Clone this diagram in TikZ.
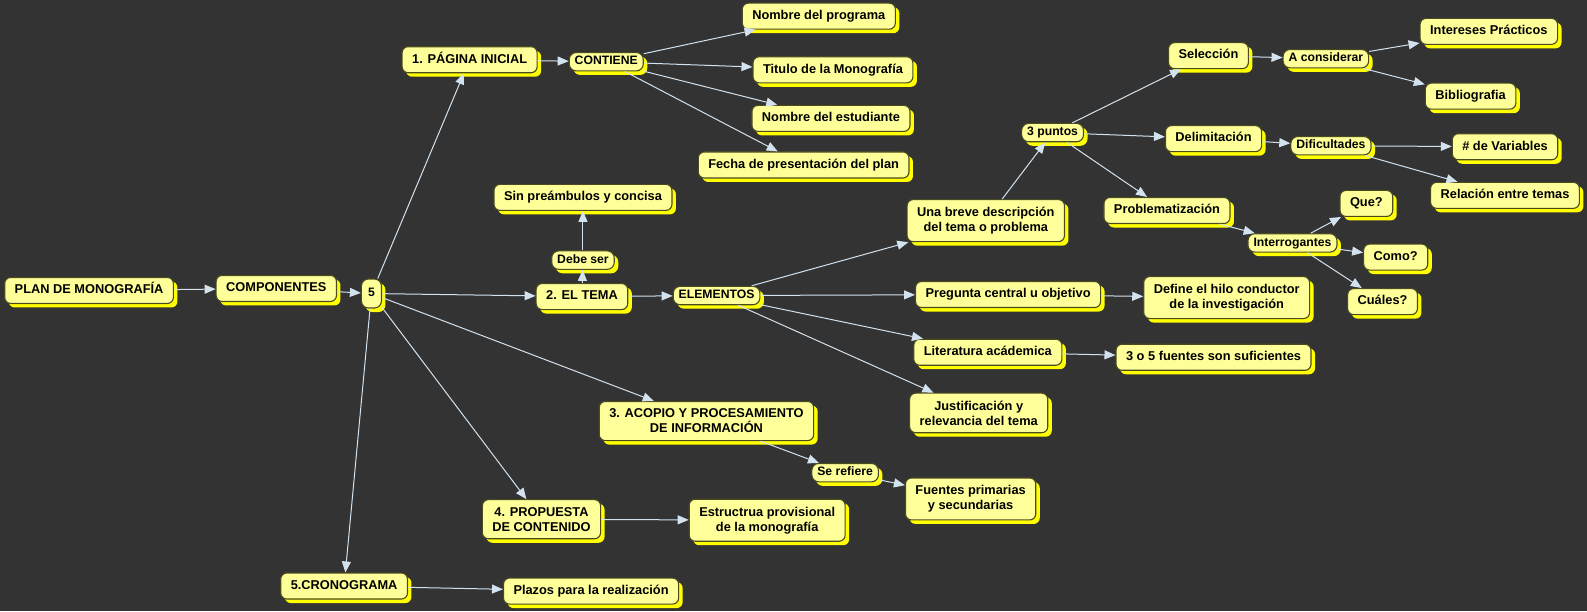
\documentclass[tikz,border=0pt]{standalone}
\usepackage{fontspec}
\setmainfont{Liberation Sans}
\usetikzlibrary{arrows.meta,shadows}
\definecolor{bg}{HTML}{333333}
\definecolor{boxfill}{HTML}{FFFF99}
\definecolor{boxline}{HTML}{4A4A20}
\definecolor{shad}{HTML}{FFFF00}
\definecolor{arr}{HTML}{D2E2EE}
\tikzset{
 base/.style={draw=boxline, line width=1.1pt, fill=boxfill, align=center,
   drop shadow={shadow xshift=4pt, shadow yshift=-4pt, fill=shad, opacity=1}},
 concept/.style={base, rounded corners=6pt, font=\fontsize{12.8}{15}\selectfont\bfseries,
   inner xsep=10pt, inner ysep=7.5pt},
 one/.style={concept, text height=9.3pt, text depth=2.7pt, inner ysep=7pt},
 link/.style={base, rounded corners=7pt, font=\fontsize{12.2}{14}\selectfont\bfseries,
   inner xsep=5.5pt, inner ysep=3.5pt, text height=8.8pt, text depth=2.6pt},
 conn/.style={draw=arr, line width=1pt, -{Triangle[length=11pt,width=9pt]}},
}
\begin{document}
\begin{tikzpicture}[x=1.012pt,y=-1.012pt]
\useasboundingbox[fill=bg] (0,0) rectangle (1568,604);
% concepts
\node[one] (plan) at (88,287) {PLAN DE MONOGRAFÍA};
\node[one] (comp) at (273,285) {COMPONENTES};
\node[link, minimum height=29pt, minimum width=20pt, inner xsep=3pt] (five) at (367,290) {5};
\node[one] (pag) at (464,59) {1. PÁGINA INICIAL};
\node[link] (cont) at (599,61) {CONTIENE};
\node[one] (nprog) at (809,16) {Nombre del programa};
\node[one] (tit) at (823,69) {Titulo de la Monografía};
\node[one] (nest) at (821,117) {Nombre del estudiante};
\node[one] (fecha) at (794,163) {Fecha de presentación del plan};
\node[one] (sin) at (576,195) {Sin preámbulos y concisa};
\node[link] (debe) at (576,257) {Debe ser};
\node[one] (tema) at (575,293) {2. EL TEMA};
\node[link] (elem) at (708,292) {ELEMENTOS};
\node[concept] (breve) at (974,218) {Una breve descripción\\del tema o problema};
\node[link] (tres) at (1040,131) {3 puntos};
\node[one] (sel) at (1194,55) {Selección};
\node[link] (acons) at (1310,58) {A considerar};
\node[one] (inter) at (1471,31) {Intereses Prácticos};
\node[one] (bib) at (1453,95) {Bibliografia};
\node[one] (delim) at (1199,137) {Delimitación};
\node[link] (dific) at (1315,144) {Dificultades};
\node[one] (var) at (1487,145) {\# de Variables};
\node[one] (rel) at (1487,193) {Relación entre temas};
\node[one] (prob) at (1153,208) {Problematización};
\node[link] (interr) at (1277,240) {Interrogantes};
\node[one] (que) at (1350,201) {Que?};
\node[one] (como) at (1379,254) {Como?};
\node[one] (cuales) at (1366,298) {Cuáles?};
\node[one] (preg) at (996,291) {Pregunta central u objetivo};
\node[concept] (define) at (1212,294) {Define el hilo conductor\\de la investigación};
\node[one] (lit) at (976,348) {Literatura acádemica};
\node[one] (tresc) at (1199,353) {3 o 5 fuentes son suficientes};
\node[concept] (just) at (967,408) {Justificación y\\relevancia del tema};
\node[concept] (acopio) at (698,416) {3. ACOPIO Y PROCESAMIENTO\\DE INFORMACIÓN};
\node[link] (seref) at (835,467) {Se refiere};
\node[concept] (fuentes) at (959,493) {Fuentes primarias\\y secundarias};
\node[concept] (prop) at (535,513) {4. PROPUESTA\\DE CONTENIDO};
\node[concept] (estr) at (758,514) {Estructrua provisional\\de la monografía};
\node[one] (crono) at (340,579) {5.CRONOGRAMA};
\node[one] (plazos) at (584,584) {Plazos para la realización};
% connectors
\draw[conn] (plan) -- (comp);
\draw[conn] (comp) -- (five);
\draw[conn] (five) -- (pag);
\draw[conn] (five) -- (tema);
\draw[conn] (five) -- (acopio);
\draw[conn] (five) -- (prop);
\draw[conn] (five) -- (crono);
\draw[conn] (pag) -- (cont);
\draw[conn] (cont) -- (nprog);
\draw[conn] (cont) -- (tit);
\draw[conn] (cont) -- (nest);
\draw[conn] (cont) -- (fecha);
\draw[conn] (tema) -- (debe);
\draw[conn] (debe) -- (sin);
\draw[conn] (tema) -- (elem);
\draw[conn] (elem) -- (breve);
\draw[conn] (elem) -- (preg);
\draw[conn] (elem) -- (lit);
\draw[conn] (elem) -- (just);
\draw[conn] (breve) -- (tres);
\draw[conn] (tres) -- (sel);
\draw[conn] (tres) -- (delim);
\draw[conn] (tres) -- (prob);
\draw[conn] (sel) -- (acons);
\draw[conn] (acons) -- (inter);
\draw[conn] (acons) -- (bib);
\draw[conn] (delim) -- (dific);
\draw[conn] (dific) -- (var);
\draw[conn] (dific) -- (rel);
\draw[conn] (prob) -- (interr);
\draw[conn] (interr) -- (que);
\draw[conn] (interr) -- (como);
\draw[conn] (interr) -- (cuales);
\draw[conn] (preg) -- (define);
\draw[conn] (lit) -- (tresc);
\draw[conn] (acopio) -- (seref);
\draw[conn] (seref) -- (fuentes);
\draw[conn] (prop) -- (estr);
\draw[conn] (crono) -- (plazos);
\end{tikzpicture}
\end{document}
